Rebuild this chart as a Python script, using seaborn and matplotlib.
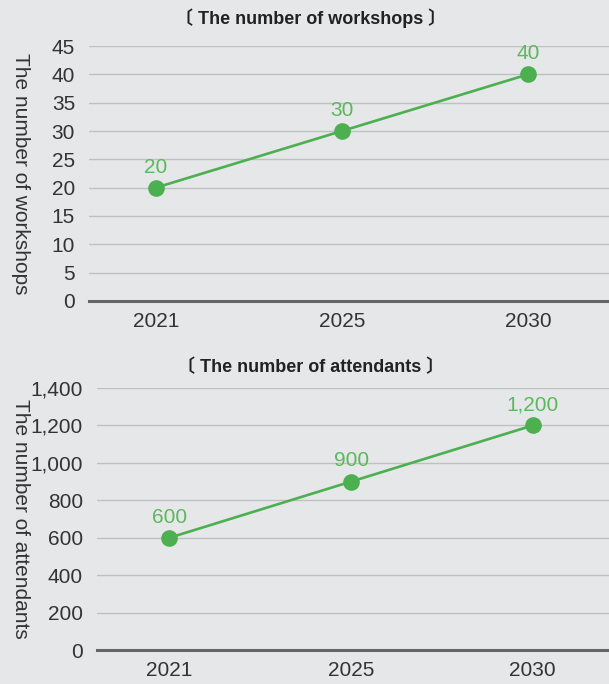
import matplotlib
matplotlib.use("Agg")
import matplotlib.pyplot as plt
import matplotlib.ticker as mticker
import pandas as pd
import seaborn as sns

# --- data ---
years = ["2021", "2025", "2030"]
workshops = [20, 30, 40]
attendants = [600, 900, 1200]

bg = "#e6e7e9"
green = "#4caf50"
label_green = "#5cb85c"

sns.set_theme(style="white")
plt.rcParams["font.family"] = ["Liberation Sans", "Noto Sans CJK KR", "DejaVu Sans"]

fig = plt.figure(figsize=(6.09, 6.84), dpi=100, facecolor=bg)
ax1 = fig.add_axes([0.146, 0.56, 0.854, 0.3727])
ax2 = fig.add_axes([0.159, 0.0497, 0.841, 0.383])

panels = [
    (ax1, workshops, "〔 The number of workshops 〕", "The number of workshops",
     (0, 45), range(0, 46, 5), (-0.36, 2.435), "{:.0f}", 0.974),
    (ax2, attendants, "〔 The number of attendants 〕", "The number of attendants",
     (0, 1400), range(0, 1401, 200), (-0.40, 2.42), "{:,.0f}", 0.463),
]

for ax, values, title, ylabel, ylim, yticks, xlim, fmt, ty in panels:
    df = pd.DataFrame({"year": years, "value": values})
    ax.set_facecolor(bg)
    sns.lineplot(data=df, x="year", y="value", ax=ax, color=green,
                 linewidth=1.9, marker="o", markersize=12,
                 markeredgewidth=0, clip_on=False, zorder=3)
    for i, v in enumerate(values):
        ax.annotate(fmt.format(v), (i, v), xytext=(0, 8),
                    textcoords="offset points", ha="center", va="bottom",
                    color=label_green, fontsize=15, annotation_clip=False)

    ax.set_ylim(*ylim)
    ax.set_yticks(list(yticks))
    ax.yaxis.set_major_formatter(mticker.FuncFormatter(lambda v, p, f=fmt: f.format(v)))
    ax.set_xlim(*xlim)
    ax.grid(axis="y", color="#bfc0c2", linewidth=1)
    ax.grid(axis="x", visible=False)
    for s in ["top", "right", "left"]:
        ax.spines[s].set_visible(False)
    ax.spines["bottom"].set_color("#666666")
    ax.spines["bottom"].set_linewidth(2.2)
    ax.tick_params(axis="y", length=0, labelsize=15, colors="#333333", pad=10)
    ax.tick_params(axis="x", length=0, labelsize=15, colors="#333333", pad=8)
    ax.set_xlabel("")
    ax.set_ylabel(ylabel, rotation=270, fontsize=15, color="#333333")
    ax.yaxis.set_label_coords(-0.15 if ax is ax1 else -0.168, 0.5)
    fig.text(0.51, ty, title, ha="center", va="center", fontsize=13,
             fontweight="bold", color="#222222")

fig.savefig("out.png", dpi=100, facecolor=bg)
